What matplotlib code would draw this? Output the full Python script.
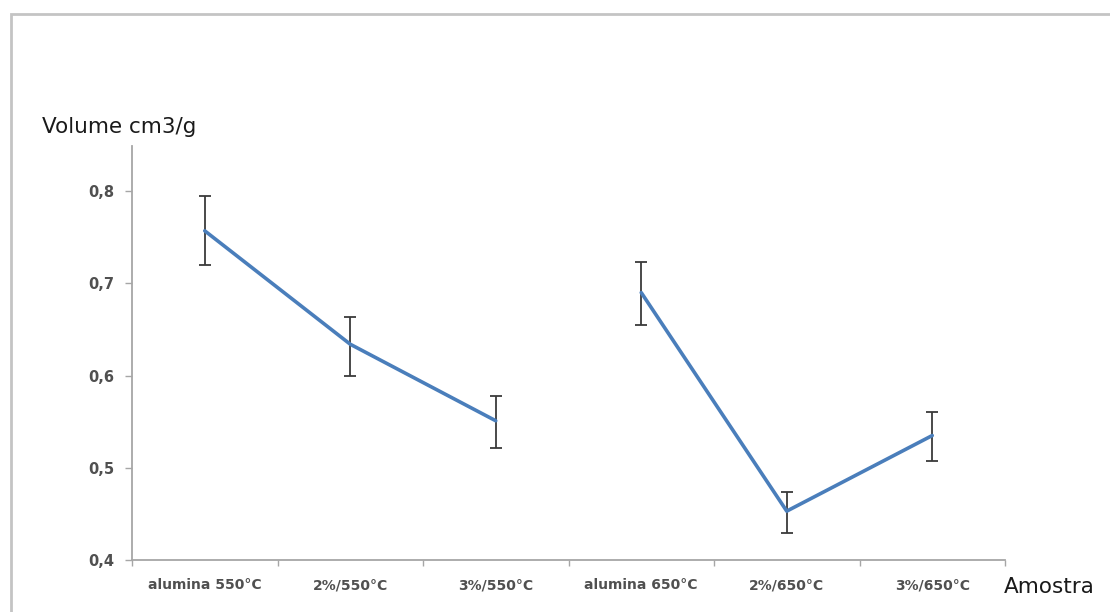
import matplotlib.pyplot as plt
from matplotlib.patches import Rectangle

# Data
samples = ['alumina 550°C', '2%/550°C', '3%/550°C',
           'alumina 650°C', '2%/650°C', '3%/650°C']
volume = [0.757, 0.634, 0.551, 0.690, 0.453, 0.535]
err_low = [0.037, 0.034, 0.029, 0.035, 0.024, 0.028]
err_high = [0.038, 0.030, 0.027, 0.033, 0.021, 0.026]
yticks = [0.4, 0.5, 0.6, 0.7, 0.8]
ytick_labels = ['0,4', '0,5', '0,6', '0,7', '0,8']

fig = plt.figure(figsize=(11.10, 6.12), dpi=100)
fig.patches.append(Rectangle((11 / 1110, -0.05), 1.2, (612 - 14) / 612 + 0.05,
                             transform=fig.transFigure, fill=False,
                             edgecolor='#c4c4c4', linewidth=2))

ax = fig.add_axes([132 / 1110, 52 / 612, 873 / 1110, 414 / 612])
x = list(range(len(samples)))
line_color = '#4a7ebb'

# two separate series (550 and 650), not joined
for start in (0, 3):
    idx = x[start:start + 3]
    ax.plot(idx, volume[start:start + 3], color=line_color, linewidth=2.6,
            solid_capstyle='round', zorder=3)
ax.errorbar(x, volume, yerr=[err_low, err_high], fmt='none', ecolor='#3a3a3a',
            elinewidth=1.3, capsize=4.5, capthick=1.3, zorder=2)

ax.set_xlim(-0.5, 5.5)
ax.set_ylim(0.4, 0.849)
ax.set_yticks(yticks)
ax.set_yticklabels(ytick_labels)
ax.set_xticks(x)
ax.set_xticklabels(samples)
ax.set_xticks([i + 0.5 for i in range(-1, 6)], minor=True)

for side in ('top', 'right'):
    ax.spines[side].set_visible(False)
for side in ('left', 'bottom'):
    ax.spines[side].set_color('#a6a6a6')
    ax.spines[side].set_linewidth(1.3)

ax.tick_params(axis='x', which='major', length=0, pad=13,
               labelsize=10, labelcolor='#505050')
ax.tick_params(axis='x', which='minor', length=4, color='#a6a6a6', width=1)
ax.tick_params(axis='y', length=5, color='#a6a6a6', width=1, pad=8,
               labelsize=10.5, labelcolor='#505050')
for lbl in ax.get_xticklabels() + ax.get_yticklabels():
    lbl.set_fontweight('bold')

fig.text(42 / 1110, 1 - 127 / 612, 'Volume cm3/g', fontsize=15.5,
         ha='left', va='center', color='#1a1a1a')
fig.text(1004 / 1110, 1 - 587 / 612, 'Amostra', fontsize=15.5,
         ha='left', va='center', color='#1a1a1a')

fig.savefig('out.png', dpi=100, facecolor='white')
